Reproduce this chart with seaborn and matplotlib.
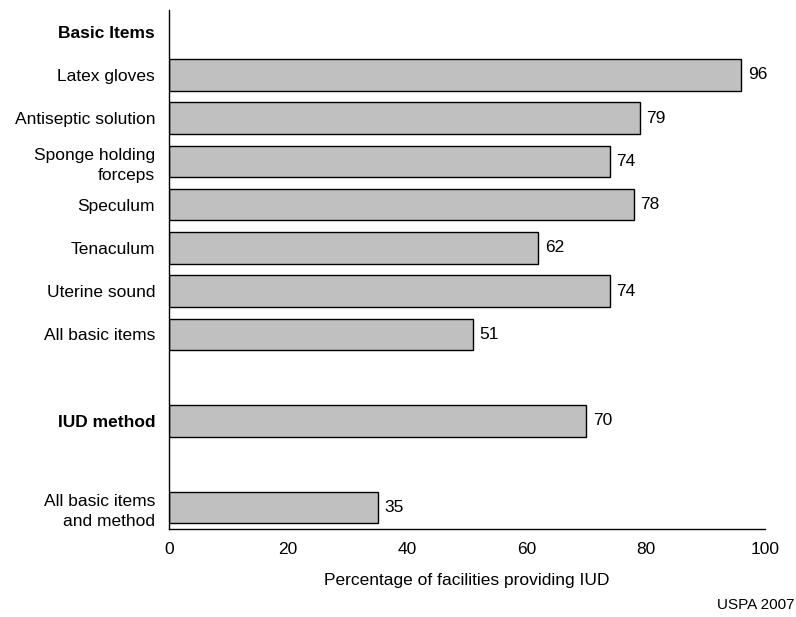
import numpy as np
import pandas as pd
import seaborn as sns
import matplotlib.pyplot as plt

# categories (header / blank rows carry no bar)
labels = ['Basic Items', 'Latex gloves', 'Antiseptic solution', 'Sponge holding\nforceps',
          'Speculum', 'Tenaculum', 'Uterine sound', 'All basic items', ' ',
          'IUD method', '  ', 'All basic items\nand method']
values = [np.nan, 96, 79, 74, 78, 62, 74, 51, np.nan, 70, np.nan, 35]
bold_labels = ['Basic Items', 'IUD method']
xticks = [0, 20, 40, 60, 80, 100]

sns.set_theme(style='white')
plt.rcParams['font.family'] = ['Liberation Sans', 'DejaVu Sans']
plt.rcParams['text.color'] = 'black'
plt.rcParams['axes.labelcolor'] = 'black'
plt.rcParams['xtick.color'] = 'black'
plt.rcParams['ytick.color'] = 'black'

fs = 12.5
df = pd.DataFrame({'item': labels, 'pct': values})

fig = plt.figure(figsize=(7.96, 6.17), dpi=100)
ax = fig.add_axes([0.2123, 0.1426, 0.7487, 0.8412])

sns.barplot(data=df, x='pct', y='item', order=labels, orient='h',
            color='#c0c0c0', saturation=1, edgecolor='black', linewidth=1,
            width=0.73, ax=ax)

for i, v in enumerate(values):
    if not np.isnan(v):
        ax.text(v + 1.1, i, f'{v:.0f}', va='center', ha='left', fontsize=fs)

ax.set_xlim(0, 100)
ax.set_ylim(11.5, -0.5)
ax.set_xticks(xticks)
ax.set_xticklabels([str(t) for t in xticks], fontsize=fs)
ax.set_ylabel('')
ax.set_xlabel('Percentage of facilities providing IUD', fontsize=fs, labelpad=12)
ax.tick_params(axis='both', length=0)
ax.tick_params(axis='y', pad=10)
ax.tick_params(axis='x', pad=9)
for lbl in ax.get_yticklabels():
    lbl.set_fontsize(fs)
    lbl.set_linespacing(1.45)
    if lbl.get_text() in bold_labels:
        lbl.set_fontweight('bold')

sns.despine(ax=ax)
for s in ['left', 'bottom']:
    ax.spines[s].set_color('black')
    ax.spines[s].set_linewidth(1)

fig.text(0.998, 0.008, 'USPA 2007', ha='right', va='bottom', fontsize=11)

fig.savefig('out.png', dpi=100)
